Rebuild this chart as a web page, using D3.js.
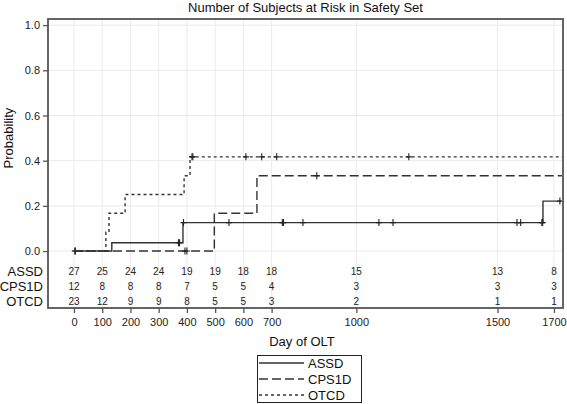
<!DOCTYPE html>
<html><head><meta charset="utf-8">
<script src="https://cdn.jsdelivr.net/npm/d3@7"></script>
<style>body{margin:0;background:#fff}svg{display:block;font-family:"Liberation Sans",Arial,sans-serif}</style>
</head><body><svg id="c" width="567" height="404"></svg>
<script>
const title = "Number of Subjects at Risk in Safety Set";
const groups = ["ASSD", "CPS1D", "OTCD"];
const xTicks = [0,100,200,300,400,500,600,700,1000,1500,1700];
const yTicks = [0,0.2,0.4,0.6,0.8,1.0];
// step curves: [day, cumulative probability]
const assdSteps = [[0,0],[134,0.037],[386,0.126],[1661,0.221]];
const cps1dSteps = [[0,0],[497,0.167],[648,0.333]];
const otcdSteps = [[0,0],[113,0.083],[124,0.167],[181,0.25],[390,0.333],[411,0.417]];
const curveEnds = [1725, 1728, 1730];
// censored days
const assdCensor = [3,5,370,374,388,549,738,742,811,1080,1130,1569,1582,1657,1660,1721];
const cps1dCensor = [393,400,860];
const otcdCensor = [418,421,609,665,718,1186];
// number at risk
const assdRisk = [27,25,24,24,19,19,18,18,15,13,8];
const cps1dRisk = [12,8,8,8,7,5,5,4,3,3,3];
const otcdRisk = [23,12,9,9,8,5,5,3,2,1,1];

const svg = d3.select("#c");
const L=48, R=563, T=19, B=308;
const x = d3.scaleLinear().domain([-92,1732]).range([L,R]);
const y = d3.scaleLinear().domain([-0.252,1.027]).range([B,T]);

// grid
const g = svg.append("g");
g.selectAll(".vg").data(xTicks).join("line")
  .attr("x1",d=>x(d)).attr("x2",d=>x(d)).attr("y1",T).attr("y2",B)
  .attr("stroke","#ebebeb").attr("stroke-width",1);
g.selectAll(".hg").data(yTicks).join("line")
  .attr("x1",L).attr("x2",R).attr("y1",d=>y(d)).attr("y2",d=>y(d))
  .attr("stroke","#ebebeb").attr("stroke-width",1);

// curves
const series = [
  {steps:assdSteps, censor:assdCensor, end:curveEnds[0], dash:null},
  {steps:cps1dSteps, censor:cps1dCensor, end:curveEnds[1], dash:"9,4"},
  {steps:otcdSteps, censor:otcdCensor, end:curveEnds[2], dash:"3,3"}
];
function valAt(steps, t){ let v=0; steps.forEach(s=>{ if(s[0]<=t) v=s[1]; }); return v; }
series.forEach(s=>{
  const pts = s.steps.concat([[s.end, s.steps[s.steps.length-1][1]]]);
  const line = d3.line().x(d=>x(d[0])).y(d=>y(d[1])).curve(d3.curveStepAfter);
  svg.append("path").attr("d",line(pts)).attr("fill","none")
    .attr("stroke","#333").attr("stroke-width",1.4)
    .attr("stroke-dasharray",s.dash);
  s.censor.forEach(c=>{
    const cx=x(c), cy=y(valAt(s.steps,c));
    svg.append("path").attr("d",`M${cx},${cy-3.5}V${cy+3.5}M${cx-3},${cy}H${cx+3}`)
      .attr("stroke","#222").attr("stroke-width",1.1);
  });
});

// frame
svg.append("rect").attr("x",L).attr("y",T).attr("width",R-L).attr("height",B-T)
  .attr("fill","none").attr("stroke","#555").attr("stroke-width",1.8);

// y axis
const ya = svg.append("g").attr("transform",`translate(${L},0)`)
  .call(d3.axisLeft(y).tickValues(yTicks).tickFormat(d3.format(".1f")).tickSize(5).tickPadding(3));
ya.select(".domain").remove();
ya.selectAll("line").attr("stroke","#555").attr("stroke-width",1.3);
ya.selectAll("text").attr("font-size",11).attr("fill","#222").attr("font-family","Liberation Sans, Arial");

// x axis
const xa = svg.append("g").attr("transform",`translate(0,${B})`)
  .call(d3.axisBottom(x).tickValues(xTicks).tickFormat(d3.format("d")).tickSize(5).tickPadding(5));
xa.select(".domain").remove();
xa.selectAll("line").attr("stroke","#555").attr("stroke-width",1.3);
xa.selectAll("text").attr("font-size",11).attr("fill","#222").attr("font-family","Liberation Sans, Arial");

// at-risk table
const risks = [assdRisk, cps1dRisk, otcdRisk];
const rowY = [271, 286, 301];
groups.forEach((gname,i)=>{
  svg.append("text").attr("x",43).attr("y",rowY[i]+4.5).attr("text-anchor","end")
    .attr("font-size",13).attr("fill","#111").text(gname);
  svg.selectAll(null).data(risks[i]).join("text")
    .attr("x",(d,j)=>x(xTicks[j])).attr("y",rowY[i]+3.5).attr("text-anchor","middle")
    .attr("font-size",10).attr("fill","#222").text(d=>d);
});

// titles
svg.append("text").attr("x",305.5).attr("y",12).attr("text-anchor","middle")
  .attr("font-size",13).attr("fill","#111").text(title);
svg.append("text").attr("x",302).attr("y",346).attr("text-anchor","middle")
  .attr("font-size",13).attr("fill","#111").text("Day of OLT");
svg.append("text").attr("transform",`translate(13,${y(0.5)}) rotate(-90)`).attr("text-anchor","middle")
  .attr("font-size",13).attr("fill","#111").text("Probability");

// legend
const lg = svg.append("g");
lg.append("rect").attr("x",257.5).attr("y",355.5).attr("width",104).attr("height",47)
  .attr("fill","#fff").attr("stroke","#222").attr("stroke-width",1);
const dashes=[null,"9,4","3,3"];
const legY=[363,379,395];
groups.forEach((gname,i)=>{
  lg.append("line").attr("x1",259).attr("x2",304).attr("y1",legY[i]).attr("y2",legY[i])
    .attr("stroke","#333").attr("stroke-width",1.3).attr("stroke-dasharray",dashes[i]);
  lg.append("text").attr("x",308).attr("y",legY[i]+4.5).attr("font-size",13).attr("fill","#111").text(gname);
});
</script></body></html>
